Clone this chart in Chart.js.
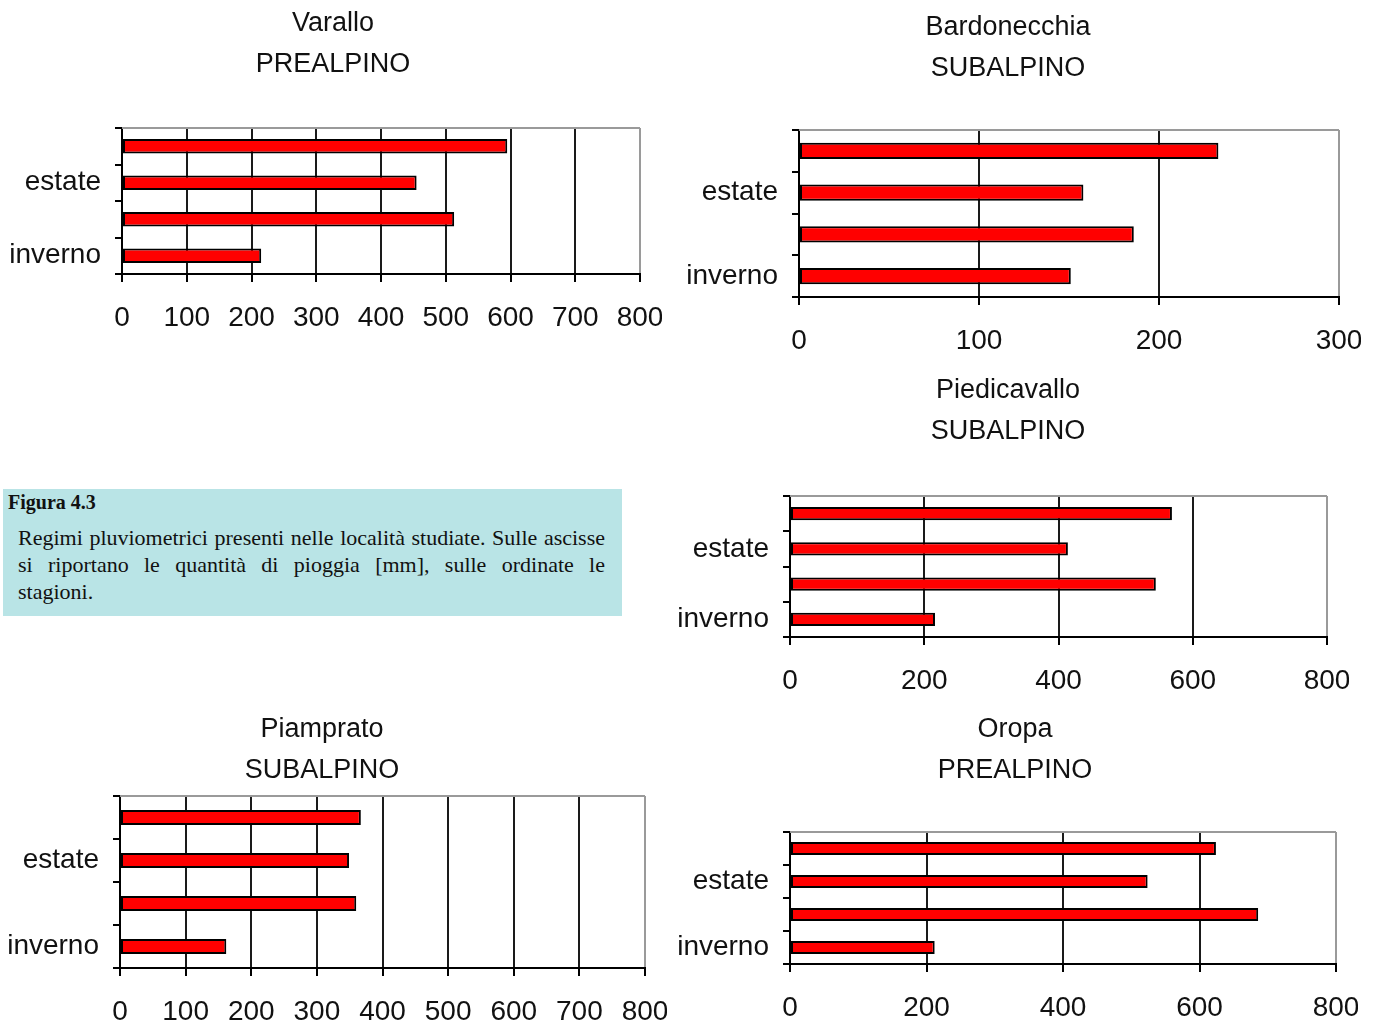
<!DOCTYPE html>
<html>
<head>
<meta charset="utf-8">
<script src="https://cdn.jsdelivr.net/npm/chart.js@4/dist/chart.umd.min.js"></script>
<style>
  html, body { margin: 0; padding: 0; background: #fff; overflow: hidden; }
  body { position: relative; width: 1374px; height: 1023px; }
  .box { position: absolute; }
  #caption {
    position: absolute; left: 3px; top: 489px; width: 619px; height: 127px;
    background: #b9e4e6; font-family: 'Liberation Serif', 'Times New Roman', serif; color: #111;
  }
  #caption .head { position: absolute; left: 5px; top: 1px; font-weight: bold; font-size: 20px; line-height: 24px; }
  #caption .line { position: absolute; left: 15px; width: 587px; font-size: 22px; line-height: 26px; white-space: nowrap; }
  #caption .just { text-align: justify; text-align-last: justify; white-space: normal; }
</style>
</head>
<body>

<div id="caption">
  <div class="head">Figura 4.3</div>
  <div class="line just" style="top:36px">Regimi pluviometrici presenti nelle località studiate. Sulle ascisse</div>
  <div class="line just" style="top:63px">si riportano le quantità di pioggia [mm], sulle ordinate le</div>
  <div class="line" style="top:90px">stagioni.</div>
</div>

<script>
// seasons bottom -> top, only some labels are printed on the axis
const seasons = ['inverno', 'primavera', 'estate', 'autunno'];
const shownSeasons = ['inverno', 'estate'];

const stations = ['Varallo', 'Bardonecchia', 'Piedicavallo', 'Piamprato', 'Oropa'];
const regimes = ['PREALPINO', 'SUBALPINO', 'SUBALPINO', 'SUBALPINO', 'PREALPINO'];

// rain [mm] per season (inverno, primavera, estate, autunno)
const varallo = [215, 513, 455, 595];
const bardonecchia = [151, 186, 158, 233];
const piedicavallo = [216, 545, 414, 569];
const piamprato = [162, 360, 349, 367];
const oropa = [212, 686, 524, 624];

const xMax = [800, 300, 800, 800, 800];
const xStep = [100, 100, 200, 100, 200];

const values = [varallo, bardonecchia, piedicavallo, piamprato, oropa];

// canvas placement and fixed axis sizes for each panel
const RIGHT = 22;
const panels = [
    { left: 4, top: 0, width: 658, height: 345, yw: 118, padTop: 3, padBottom: 43, xh: 71, bar: 0.4 },
    { left: 655, top: 0, width: 706, height: 360, yw: 144, padTop: 7, padBottom: 41, xh: 63, bar: 0.39 },
    { left: 667, top: 365, width: 682, height: 335, yw: 123, padTop: 5, padBottom: 44, xh: 63, bar: 0.37 },
    { left: -23, top: 705, width: 690, height: 318, yw: 143, padTop: 4, padBottom: 5, xh: 55, bar: 0.35 },
    { left: 672, top: 705, width: 686, height: 318, yw: 118, padTop: 4, padBottom: 41, xh: 59, bar: 0.4 }
];

const FONT = "'Liberation Sans', Arial, sans-serif";
Chart.defaults.font.family = FONT;
Chart.defaults.color = '#111';

const frameTop = {
    id: 'frameTop',
    afterDraw(chart) {
        const a = chart.chartArea;
        const ctx = chart.ctx;
        ctx.save();
        ctx.strokeStyle = '#9a9a9a';
        ctx.lineWidth = 2;
        ctx.beginPath();
        ctx.moveTo(a.left, a.top);
        ctx.lineTo(a.right, a.top);
        ctx.stroke();
        ctx.restore();
    }
};

panels.forEach((p, i) => {
    const div = document.createElement('div');
    div.className = 'box';
    div.style.left = p.left + 'px';
    div.style.top = p.top + 'px';
    div.style.width = p.width + 'px';
    div.style.height = p.height + 'px';
    const canvas = document.createElement('canvas');
    div.appendChild(canvas);
    document.body.appendChild(div);

    const max = xMax[i];

    new Chart(canvas, {
        type: 'bar',
        data: {
            labels: seasons,
            datasets: [{
                data: values[i],
                backgroundColor: '#ff0000',
                borderColor: '#000',
                borderWidth: 2,
                borderSkipped: false,
                barPercentage: p.bar,
                categoryPercentage: 1
            }]
        },
        options: {
            indexAxis: 'y',
            responsive: true,
            maintainAspectRatio: false,
            animation: false,
            events: [],
            layout: { padding: 0 },
            plugins: {
                legend: { display: false },
                tooltip: { enabled: false },
                title: {
                    display: true,
                    text: [stations[i], regimes[i]],
                    color: '#111',
                    font: { family: FONT, size: 27, weight: 'normal', lineHeight: 41 / 27 },
                    padding: { top: p.padTop, bottom: p.padBottom }
                }
            },
            scales: {
                x: {
                    min: 0,
                    max: max,
                    ticks: {
                        stepSize: xStep[i],
                        color: '#111',
                        font: { size: 28 },
                        padding: 19,
                        maxRotation: 0
                    },
                    grid: {
                        color: (c) => (c.tick && c.tick.value === max) ? '#9a9a9a' : '#1a1a1a',
                        tickColor: '#000',
                        lineWidth: 2,
                        tickLength: 8
                    },
                    border: { color: '#000', width: 2 },
                    afterFit: (s) => { s.height = p.xh; s.paddingLeft = 0; s.paddingRight = RIGHT; }
                },
                y: {
                    reverse: true,
                    ticks: {
                        autoSkip: false,
                        color: '#111',
                        font: { size: 28 },
                        padding: 14,
                        callback: function (v) {
                            const name = this.getLabelForValue(v);
                            return shownSeasons.includes(name) ? name : '';
                        }
                    },
                    grid: {
                        drawOnChartArea: false,
                        drawTicks: true,
                        offset: true,
                        tickLength: 7,
                        color: '#000',
                        lineWidth: 2
                    },
                    border: { color: '#000', width: 2 },
                    afterFit: (s) => { s.width = p.yw; s.paddingTop = 0; s.paddingBottom = 0; }
                }
            }
        },
        plugins: [frameTop]
    });
});
</script>
</body>
</html>
